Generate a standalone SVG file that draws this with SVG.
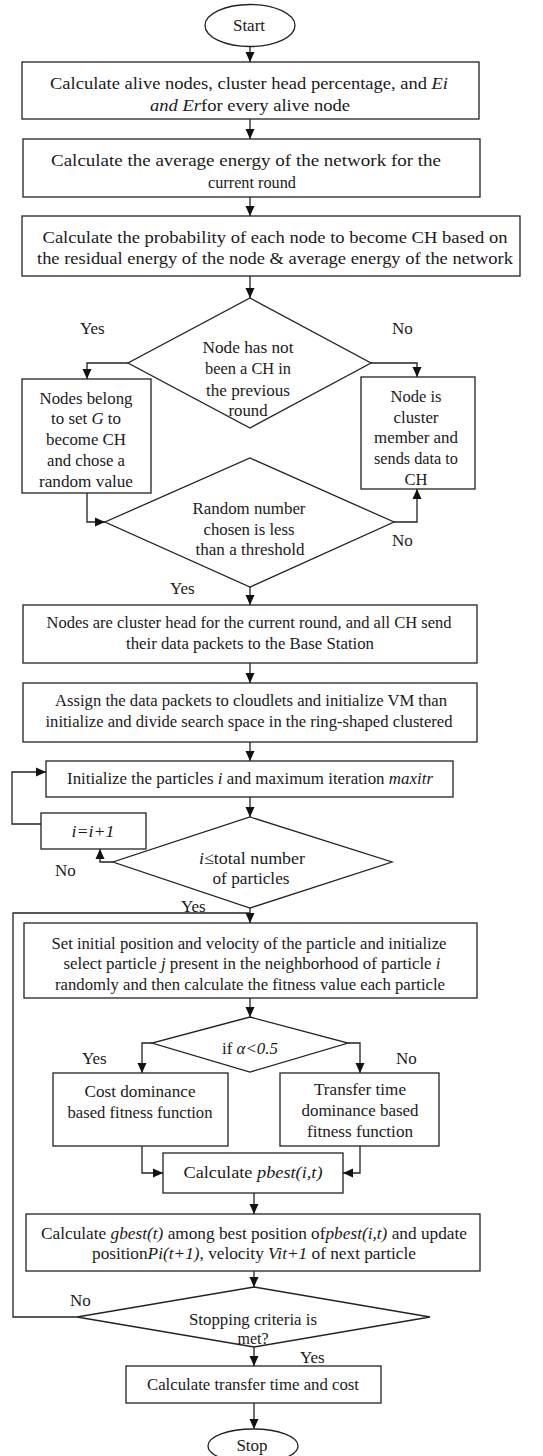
<svg xmlns="http://www.w3.org/2000/svg" width="543" height="1456" viewBox="0 0 543 1456">
<style>
.s{fill:#fff;stroke:#222;stroke-width:1.3}
.t{font-family:"Liberation Serif","Times New Roman",serif;font-size:17px;fill:#1a1a1a;text-anchor:middle}
.l{font-family:"Liberation Serif","Times New Roman",serif;font-size:17px;fill:#1a1a1a}
.c{fill:none;stroke:#222;stroke-width:1.3}
.i{font-style:italic}
</style>
<defs>
<marker id="a" markerUnits="userSpaceOnUse" markerWidth="10" markerHeight="10" refX="10" refY="5" orient="auto"><path d="M0,0.5 L10,5 L0,9.5 Z" fill="#111"/></marker>
</defs>
<rect width="543" height="1456" fill="#fff"/>
<g id="connectors">
<path class="c" d="M250 47 V62" marker-end="url(#a)"/>
<path class="c" d="M250 119 V139" marker-end="url(#a)"/>
<path class="c" d="M250 197 V216" marker-end="url(#a)"/>
<path class="c" d="M250 276 V298" marker-end="url(#a)"/>
<path class="c" d="M128 363 H87 V379" marker-end="url(#a)"/>
<path class="c" d="M371 363 H417 V377" marker-end="url(#a)"/>
<path class="c" d="M87 493 V522 H105" marker-end="url(#a)"/>
<path class="c" d="M394 522 H417 V489" marker-end="url(#a)"/>
<path class="c" d="M250 587 V605" marker-end="url(#a)"/>
<path class="c" d="M250 663 V683" marker-end="url(#a)"/>
<path class="c" d="M250 742 V761" marker-end="url(#a)"/>
<path class="c" d="M250 797 V817" marker-end="url(#a)"/>
<path class="c" d="M113 862 H100 V849" marker-end="url(#a)"/>
<path class="c" d="M41 824 H12 V772 H46" marker-end="url(#a)"/>
<path class="c" d="M250 908 V923" marker-end="url(#a)"/>
<path class="c" d="M77 1317 H13 V913 H250"/>
<path class="c" d="M250 998 V1017" marker-end="url(#a)"/>
<path class="c" d="M152 1043 H142 V1073" marker-end="url(#a)"/>
<path class="c" d="M348 1043 H360 V1073" marker-end="url(#a)"/>
<path class="c" d="M142 1146 V1173 H163" marker-end="url(#a)"/>
<path class="c" d="M360 1146 V1173 H343" marker-end="url(#a)"/>
<path class="c" d="M254 1193 V1214" marker-end="url(#a)"/>
<path class="c" d="M254 1271 V1287" marker-end="url(#a)"/>
<path class="c" d="M254 1347 V1366" marker-end="url(#a)"/>
<path class="c" d="M254 1403 V1429" marker-end="url(#a)"/>
<text class="l" x="80" y="334">Yes</text>
<text class="l" x="392" y="334">No</text>
<text class="l" x="392" y="546">No</text>
<text class="l" x="170" y="594">Yes</text>
<text class="l" x="55" y="876">No</text>
<text class="l" x="181" y="912">Yes</text>
<text class="l" x="82" y="1064">Yes</text>
<text class="l" x="396" y="1064">No</text>
<text class="l" x="70" y="1306">No</text>
<text class="l" x="300" y="1363">Yes</text>
</g>
<g id="start"><ellipse class="s" cx="250" cy="25.5" rx="45" ry="21"/><text class="t" x="249" y="31">Start</text></g>
<g id="box1"><rect class="s" x="22" y="62" width="457" height="57"/>
<text class="t" x="249" y="89" textLength="398" lengthAdjust="spacingAndGlyphs">Calculate alive nodes, cluster head percentage, and <tspan class="i">Ei</tspan></text>
<text class="t" x="250" y="111" textLength="200" lengthAdjust="spacingAndGlyphs"><tspan class="i">and Er</tspan>for every alive node</text></g>
<g id="box2"><rect class="s" x="23" y="139" width="457" height="58"/>
<text class="t" x="246" y="166" textLength="390" lengthAdjust="spacingAndGlyphs">Calculate the average energy of the network for the</text>
<text class="t" x="252" y="188" textLength="88" lengthAdjust="spacingAndGlyphs">current round</text></g>
<g id="box3"><rect class="s" x="22" y="216" width="498" height="60"/>
<text class="t" x="275" y="243" textLength="465" lengthAdjust="spacingAndGlyphs">Calculate the probability of each node to become CH based on</text>
<text class="t" x="275" y="264" textLength="476" lengthAdjust="spacingAndGlyphs">the residual energy of the node &amp; average energy of the network</text></g>
<g id="d1"><polygon class="s" points="250,298 371,363 250,428 128,363"/>
<text class="t" x="248" y="353" textLength="91" lengthAdjust="spacingAndGlyphs">Node has not</text>
<text class="t" x="248" y="374" textLength="86" lengthAdjust="spacingAndGlyphs">been a CH in</text>
<text class="t" x="248" y="396" textLength="84" lengthAdjust="spacingAndGlyphs">the previous</text>
<text class="t" x="248" y="416" textLength="39" lengthAdjust="spacingAndGlyphs">round</text></g>
<g id="setG"><rect class="s" x="22" y="379" width="129" height="114"/>
<text class="t" x="86" y="404" textLength="93" lengthAdjust="spacingAndGlyphs">Nodes belong</text>
<text class="t" x="86" y="424" textLength="70" lengthAdjust="spacingAndGlyphs">to set <tspan class="i">G</tspan> to</text>
<text class="t" x="86" y="445" textLength="80" lengthAdjust="spacingAndGlyphs">become CH</text>
<text class="t" x="86" y="466" textLength="78" lengthAdjust="spacingAndGlyphs">and chose a</text>
<text class="t" x="86" y="487" textLength="94" lengthAdjust="spacingAndGlyphs">random value</text></g>
<g id="member"><rect class="s" x="361" y="377" width="114" height="112"/>
<text class="t" x="416" y="402" textLength="51" lengthAdjust="spacingAndGlyphs">Node is</text>
<text class="t" x="416" y="423" textLength="45" lengthAdjust="spacingAndGlyphs">cluster</text>
<text class="t" x="416" y="443" textLength="84" lengthAdjust="spacingAndGlyphs">member and</text>
<text class="t" x="416" y="464" textLength="84" lengthAdjust="spacingAndGlyphs">sends data to</text>
<text class="t" x="416" y="485" textLength="23" lengthAdjust="spacingAndGlyphs">CH</text></g>
<g id="d2"><polygon class="s" points="250,458 394,522 250,587 105,522"/>
<text class="t" x="249" y="514" textLength="113" lengthAdjust="spacingAndGlyphs">Random number</text>
<text class="t" x="249" y="535" textLength="91" lengthAdjust="spacingAndGlyphs">chosen is less</text>
<text class="t" x="250" y="555" textLength="109" lengthAdjust="spacingAndGlyphs">than a threshold</text></g>
<g id="box4"><rect class="s" x="23" y="605" width="454" height="58"/>
<text class="t" x="249" y="628" textLength="405" lengthAdjust="spacingAndGlyphs">Nodes are cluster head for the current round, and all CH send</text>
<text class="t" x="250" y="649" textLength="248" lengthAdjust="spacingAndGlyphs">their data packets to the Base Station</text></g>
<g id="box5"><rect class="s" x="23" y="683" width="454" height="59"/>
<text class="t" x="251" y="706" textLength="392" lengthAdjust="spacingAndGlyphs">Assign the data packets to cloudlets and initialize VM than</text>
<text class="t" x="249" y="727" textLength="407" lengthAdjust="spacingAndGlyphs">initialize and divide search space in the ring-shaped clustered</text></g>
<g id="box6"><rect class="s" x="46" y="761" width="407" height="36"/>
<text class="t" x="250" y="784" textLength="366" lengthAdjust="spacingAndGlyphs">Initialize the particles <tspan class="i">i</tspan> and maximum iteration <tspan class="i">maxitr</tspan></text></g>
<g id="inc"><rect class="s" x="41" y="813" width="105" height="36"/>
<text class="t i" x="93" y="837" textLength="43" lengthAdjust="spacingAndGlyphs">i=i+1</text></g>
<g id="d3"><polygon class="s" points="250,817 392,862 250,908 113,862"/>
<text class="t" x="252" y="864" textLength="106" lengthAdjust="spacingAndGlyphs"><tspan class="i">i</tspan>≤total number</text>
<text class="t" x="251" y="884" textLength="77" lengthAdjust="spacingAndGlyphs">of particles</text></g>
<g id="box7"><rect class="s" x="24" y="923" width="453" height="75"/>
<text class="t" x="249" y="949" textLength="395" lengthAdjust="spacingAndGlyphs">Set initial position and velocity of the particle and initialize</text>
<text class="t" x="252" y="969" textLength="377" lengthAdjust="spacingAndGlyphs">select particle <tspan class="i">j</tspan> present in the neighborhood of particle <tspan class="i">i</tspan></text>
<text class="t" x="250" y="990" textLength="390" lengthAdjust="spacingAndGlyphs">randomly and then calculate the fitness value each particle</text></g>
<g id="d4"><polygon class="s" points="250,1017 348,1043 250,1072 152,1043"/>
<text class="t" x="250" y="1054" textLength="56" lengthAdjust="spacingAndGlyphs">if <tspan class="i">α&lt;0.5</tspan></text></g>
<g id="cost"><rect class="s" x="53" y="1073" width="175" height="73"/>
<text class="t" x="140" y="1097" textLength="111" lengthAdjust="spacingAndGlyphs">Cost dominance</text>
<text class="t" x="140" y="1118" textLength="145" lengthAdjust="spacingAndGlyphs">based fitness function</text></g>
<g id="time"><rect class="s" x="280" y="1073" width="159" height="73"/>
<text class="t" x="360" y="1095" textLength="92" lengthAdjust="spacingAndGlyphs">Transfer time</text>
<text class="t" x="360" y="1116" textLength="117" lengthAdjust="spacingAndGlyphs">dominance based</text>
<text class="t" x="360" y="1137" textLength="106" lengthAdjust="spacingAndGlyphs">fitness function</text></g>
<g id="pbest"><rect class="s" x="163" y="1153" width="180" height="40"/>
<text class="t" x="253" y="1178" textLength="139" lengthAdjust="spacingAndGlyphs">Calculate <tspan class="i">pbest(i,t)</tspan></text></g>
<g id="box8"><rect class="s" x="26" y="1214" width="454" height="57"/>
<text class="t" x="254" y="1239" textLength="426" lengthAdjust="spacingAndGlyphs">Calculate <tspan class="i">gbest(t)</tspan> among best position of<tspan class="i">pbest(i,t)</tspan> and update</text>
<text class="t" x="254" y="1259" textLength="324" lengthAdjust="spacingAndGlyphs">position<tspan class="i">Pi(t+1)</tspan>, velocity <tspan class="i">Vit+1</tspan> of next particle</text></g>
<g id="d5"><polygon class="s" points="254,1287 430,1317 254,1347 77,1317"/>
<text class="t" x="253" y="1325" textLength="128" lengthAdjust="spacingAndGlyphs">Stopping criteria is</text>
<text class="t" x="253" y="1344" textLength="31" lengthAdjust="spacingAndGlyphs">met?</text></g>
<g id="box9"><rect class="s" x="126" y="1366" width="255" height="37"/>
<text class="t" x="253" y="1390" textLength="212" lengthAdjust="spacingAndGlyphs">Calculate transfer time and cost</text></g>
<g id="stop"><ellipse class="s" cx="253" cy="1446" rx="45" ry="17"/><text class="t" x="252" y="1451">Stop</text></g>
</svg>
